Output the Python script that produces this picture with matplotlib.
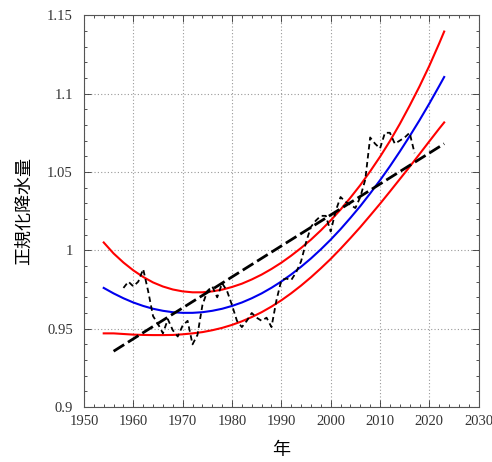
import numpy as np
import matplotlib
matplotlib.use("Agg")
import matplotlib.pyplot as plt
from matplotlib.ticker import MultipleLocator, FuncFormatter

# annual normalised precipitation
years = list(range(1958, 2018))
precip = [0.976, 0.980, 0.977, 0.980, 0.988, 0.974, 0.958, 0.953, 0.947, 0.956,
          0.949, 0.945, 0.952, 0.955, 0.940, 0.946, 0.965, 0.974, 0.977, 0.970,
          0.979, 0.974, 0.965, 0.955, 0.951, 0.955, 0.960, 0.957, 0.955, 0.957,
          0.951, 0.968, 0.981, 0.982, 0.981, 0.986, 0.993, 1.005, 1.015, 1.019,
          1.022, 1.022, 1.012, 1.025, 1.034, 1.031, 1.029, 1.027, 1.034, 1.045,
          1.072, 1.068, 1.065, 1.075, 1.075, 1.068, 1.070, 1.072, 1.075, 1.062]

# linear trend end points
trend_years = [1956, 2023]
trend_vals = [0.9356, 1.068]

# quadratic fit and its upper / lower bounds
fit_years = [1954, 1956, 1958, 1960, 1962, 1964, 1966, 1968, 1970, 1972, 1974, 1976,
             1978, 1980, 1982, 1984, 1986, 1988, 1990, 1992, 1994, 1996, 1998, 2000,
             2002, 2004, 2006, 2008, 2010, 2012, 2014, 2016, 2018, 2020, 2022, 2023]
fit_mid = [0.9760, 0.9725, 0.9694, 0.9667, 0.9645, 0.9627, 0.9614, 0.9605, 0.9601, 0.9601,
           0.9605, 0.9614, 0.9627, 0.9645, 0.9667, 0.9694, 0.9725, 0.9761, 0.9801, 0.9846,
           0.9895, 0.9948, 1.0006, 1.0068, 1.0135, 1.0207, 1.0282, 1.0363, 1.0447, 1.0536,
           1.0630, 1.0728, 1.0830, 1.0937, 1.1049, 1.1106]
fit_hi = [1.0050, 0.9980, 0.9922, 0.9872, 0.9830, 0.9795, 0.9769, 0.9750, 0.9738, 0.9732,
          0.9732, 0.9738, 0.9749, 0.9766, 0.9787, 0.9814, 0.9845, 0.9881, 0.9921, 0.9966,
          1.0015, 1.0068, 1.0127, 1.0191, 1.0260, 1.0336, 1.0416, 1.0504, 1.0597, 1.0697,
          1.0806, 1.0923, 1.1046, 1.1178, 1.1321, 1.1396]
fit_lo = [0.9470, 0.9470, 0.9466, 0.9462, 0.9460, 0.9459, 0.9459, 0.9460, 0.9464, 0.9470,
          0.9478, 0.9490, 0.9505, 0.9524, 0.9547, 0.9574, 0.9605, 0.9641, 0.9681, 0.9726,
          0.9775, 0.9828, 0.9885, 0.9945, 1.0010, 1.0078, 1.0148, 1.0222, 1.0297, 1.0375,
          1.0454, 1.0533, 1.0614, 1.0696, 1.0777, 1.0816]

fig = plt.figure(figsize=(4.92, 4.62), dpi=100)
ax = fig.add_axes([0.1707, 0.119, 0.8023, 0.848])

ax.plot(fit_years, fit_hi, color='red', lw=1.5)
ax.plot(fit_years, fit_lo, color='red', lw=1.5)
ax.plot(fit_years, fit_mid, color='#0000ee', lw=1.5)
ax.plot(years, precip, color='black', lw=1.3, dashes=(3, 2))
ax.plot(trend_years, trend_vals, color='black', lw=2, dashes=(4.5, 1.6))

ax.set_xlim(1950, 2030)
ax.set_ylim(0.9, 1.15)
ax.xaxis.set_major_locator(MultipleLocator(10))
ax.xaxis.set_minor_locator(MultipleLocator(2))
ax.yaxis.set_major_locator(MultipleLocator(0.05))
ax.yaxis.set_minor_locator(MultipleLocator(0.01))
ax.yaxis.set_major_formatter(FuncFormatter(lambda v, p: '%g' % round(v, 3)))

ax.grid(True, which='major', color='#999999', linestyle=(0, (1, 2)), lw=0.8)
ax.tick_params(which='both', direction='in', top=True, right=True, colors='#333333')
ax.tick_params(which='major', length=5, width=0.6)
ax.tick_params(which='minor', length=2.5, width=0.6)
for lab in ax.get_xticklabels() + ax.get_yticklabels():
    lab.set_family('Liberation Serif')
    lab.set_fontsize(10.5)
    lab.set_color('#333333')
ax.tick_params(axis='x', pad=6)
ax.tick_params(axis='y', pad=8)
for s in ax.spines.values():
    s.set_color('#555555')
    s.set_linewidth(0.8)

ax.set_xlabel('年', family=['Noto Sans CJK JP', 'DejaVu Sans'], fontsize=13, labelpad=9)
ax.set_ylabel('正規化降水量', family=['Noto Sans CJK JP', 'DejaVu Sans'], fontsize=13, labelpad=10)

fig.savefig('out.png', dpi=100)
